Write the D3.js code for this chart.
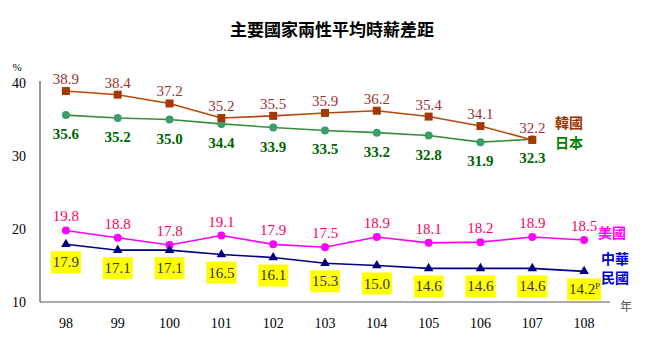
<!DOCTYPE html>
<html lang="zh-Hant">
<head>
  <meta charset="UTF-8">
  <title>主要國家兩性平均時薪差距</title>
  <script src="https://d3js.org/d3.v7.min.js"></script>
  <style>
    body { margin: 0; background: #fff; }
    svg { display: block; }
  </style>
</head>
<body>
  <svg id="chart" width="651" height="348"></svg>
  <script>
    // years (民國)
    const years = ["98", "99", "100", "101", "102", "103", "104", "105", "106", "107", "108"];
    const korea = [38.9, 38.4, 37.2, 35.2, 35.5, 35.9, 36.2, 35.4, 34.1, 32.2];
    const japan = [35.6, 35.2, 35.0, 34.4, 33.9, 33.5, 33.2, 32.8, 31.9, 32.3];
    const usa = [19.8, 18.8, 17.8, 19.1, 17.9, 17.5, 18.9, 18.1, 18.2, 18.9, 18.5];
    const taiwan = [17.9, 17.1, 17.1, 16.5, 16.1, 15.3, 15.0, 14.6, 14.6, 14.6, 14.2];
    const yTicks = [10, 20, 30, 40];

    const svg = d3.select("#chart");
    const serif = "'Liberation Serif', 'Times New Roman', serif";
    const cjk = "'Noto Sans CJK TC', 'Noto Sans CJK SC', sans-serif";

    const x = d3.scalePoint().domain(years).range([40, 610]).padding(0.5);
    const y = d3.scaleLinear().domain([10, 40]).range([302, 83]);

    // title
    svg.append("text")
      .attr("x", 332).attr("y", 36)
      .attr("text-anchor", "middle")
      .style("font-family", cjk).style("font-weight", "bold").style("font-size", "17px")
      .text("主要國家兩性平均時薪差距");

    // axes
    svg.append("line").attr("x1", 40).attr("x2", 40).attr("y1", 81).attr("y2", 302)
      .attr("stroke", "#333").attr("stroke-width", 1);
    svg.append("line").attr("x1", 40).attr("x2", 610).attr("y1", 302).attr("y2", 302)
      .attr("stroke", "#555").attr("stroke-width", 1);

    svg.selectAll(".ytick").data(yTicks).join("text")
      .attr("x", 26).attr("y", d => y(d) + 5)
      .attr("text-anchor", "end")
      .style("font-family", serif).style("font-size", "14px")
      .text(d => d);
    svg.append("text").attr("x", 17).attr("y", 71)
      .attr("text-anchor", "middle")
      .style("font-family", serif).style("font-size", "11px")
      .text("%");

    svg.selectAll(".xtick").data(years).join("text")
      .attr("x", d => x(d)).attr("y", 328)
      .attr("text-anchor", "middle")
      .style("font-family", serif).style("font-size", "14px")
      .text(d => d);
    svg.append("text").attr("x", 626).attr("y", 311)
      .attr("text-anchor", "middle")
      .style("font-family", cjk).style("font-size", "12px").attr("fill", "#555")
      .text("年");

    const line = d3.line().x((d, i) => x(years[i])).y(d => y(d));

    function drawSeries(values, lineColor, width) {
      svg.append("path").datum(values)
        .attr("fill", "none").attr("stroke", lineColor).attr("stroke-width", width)
        .attr("d", line);
    }

    drawSeries(japan, "#3a8c3a", 1.6);
    drawSeries(korea, "#b5470f", 1.6);
    drawSeries(usa, "#ff00ff", 1.6);
    drawSeries(taiwan, "#000080", 1.6);

    // markers
    svg.selectAll(".jp").data(japan).join("circle")
      .attr("cx", (d, i) => x(years[i])).attr("cy", d => y(d)).attr("r", 4)
      .attr("fill", "#3a9e6a");
    svg.selectAll(".kr").data(korea).join("rect")
      .attr("x", (d, i) => x(years[i]) - 4).attr("y", d => y(d) - 4)
      .attr("width", 8).attr("height", 8).attr("fill", "#a33a06");
    svg.selectAll(".us").data(usa).join("circle")
      .attr("cx", (d, i) => x(years[i])).attr("cy", d => y(d)).attr("r", 4)
      .attr("fill", "#ff00ff");
    const tri = d3.symbol().type(d3.symbolTriangle).size(40);
    svg.selectAll(".tw").data(taiwan).join("path")
      .attr("transform", (d, i) => `translate(${x(years[i])},${y(d)})`)
      .attr("d", tri).attr("fill", "#000080");

    // value labels
    function labels(values, color, dy, weight) {
      svg.selectAll(null).data(values).join("text")
        .attr("x", (d, i) => x(years[i])).attr("y", d => y(d) + dy)
        .attr("text-anchor", "middle")
        .style("font-family", serif).style("font-size", "15px").style("font-weight", weight)
        .attr("fill", color)
        .text(d => d.toFixed(1));
    }
    labels(korea, "#993333", -7, "normal");
    labels(japan, "#006400", 24, "bold");
    labels(usa, "#ff0066", -9, "normal");

    // Taiwan labels on yellow boxes
    const last = years.length - 1;
    const tw = svg.selectAll(".twlab").data(taiwan).join("g")
      .attr("transform", (d, i) => `translate(${x(years[i])},${y(d) + 7})`);
    tw.append("rect")
      .attr("x", (d, i) => i === last ? -17 : -15).attr("y", 0)
      .attr("width", (d, i) => i === last ? 34 : 30).attr("height", 22)
      .attr("fill", "#ffff00");
    tw.append("text")
      .attr("x", (d, i) => i === last ? -2 : 0).attr("y", 16)
      .attr("text-anchor", "middle")
      .style("font-family", serif).style("font-size", "15px")
      .attr("fill", "#333")
      .text(d => d.toFixed(1));
    tw.filter((d, i) => i === last).append("text")
      .attr("x", 11).attr("y", 11)
      .style("font-family", serif).style("font-size", "9px")
      .attr("fill", "#333")
      .text("P");

    // series names
    const names = [
      { t: "韓國", c: "#993300", x: 555, y: 128 },
      { t: "日本", c: "#008000", x: 555, y: 148 },
      { t: "美國", c: "#ff00ff", x: 598, y: 238 },
      { t: "中華", c: "#0000cc", x: 601, y: 264 },
      { t: "民國", c: "#0000cc", x: 601, y: 283 }
    ];
    svg.selectAll(".name").data(names).join("text")
      .attr("x", d => d.x).attr("y", d => d.y)
      .style("font-family", cjk).style("font-size", "14px").style("font-weight", "bold")
      .attr("fill", d => d.c)
      .text(d => d.t);
  </script>
</body>
</html>
